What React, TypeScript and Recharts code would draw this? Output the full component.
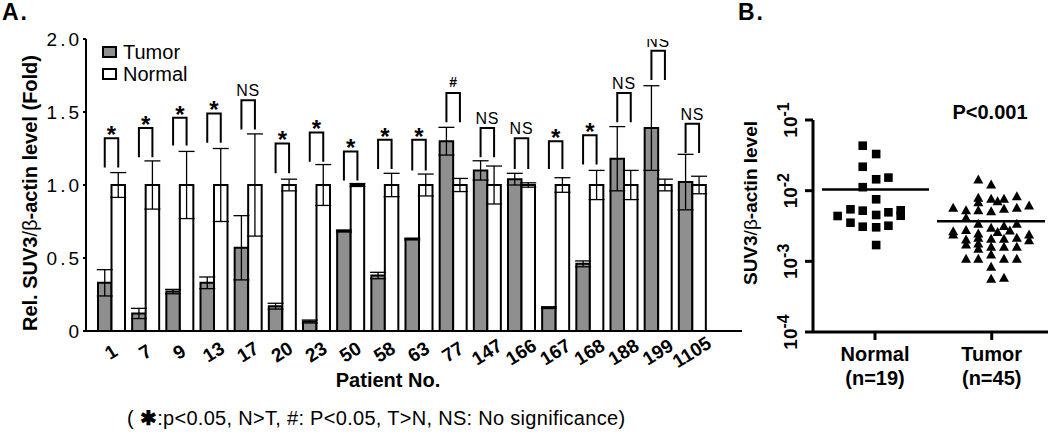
import React from "react";
import {
  BarChart,
  Bar,
  XAxis,
  YAxis,
  ErrorBar,
  Legend,
  ScatterChart,
  Scatter,
  ReferenceLine,
} from "recharts";

// Panel A: relative SUV3 level per patient
const patients = ["1", "7", "9", "13", "17", "20", "23", "50", "58", "63", "77", "147", "166", "167", "168", "188", "199", "1105"];
const tumor = [0.33, 0.12, 0.27, 0.33, 0.57, 0.17, 0.065, 0.685, 0.38, 0.63, 1.3, 1.1, 1.04, 0.16, 0.46, 1.18, 1.39, 1.02];
const tumorErr = [0.09, 0.035, 0.015, 0.04, 0.22, 0.02, 0.01, 0.007, 0.022, 0.006, 0.095, 0.066, 0.04, 0.006, 0.02, 0.22, 0.29, 0.19];
const normal = [1, 1, 1, 1, 1, 1, 1, 1, 1, 1, 1, 1, 1, 1, 1, 1, 1, 1];
const normalErr = [0.085, 0.165, 0.23, 0.25, 0.35, 0.04, 0.14, 0.01, 0.08, 0.075, 0.045, 0.13, 0.015, 0.05, 0.1, 0.1, 0.04, 0.06];
const sig = ["*", "*", "*", "*", "NS", "*", "*", "*", "*", "*", "#", "NS", "NS", "*", "*", "NS", "NS", "NS"];
const bracketTop = [1.32, 1.39, 1.46, 1.49, 1.58, 1.285, 1.36, 1.23, 1.31, 1.31, 1.63, 1.39, 1.32, 1.3, 1.34, 1.63, 1.92, 1.42];
const bracketLow = [1.12, 1.19, 1.27, 1.29, 1.38, 1.08, 1.16, 1.03, 1.11, 1.1, 1.43, 1.19, 1.11, 1.11, 1.14, 1.43, 1.72, 1.22];
const yTicksA = [0, 0.5, 1, 1.5, 2];
const seriesOrder = ["Tumor", "Normal"];

// Panel B: SUV3/beta-actin per sample (x = group position with jitter)
const groups = ["Normal", "Tumor"];
const groupN = ["(n=19)", "(n=45)"];
const normalX = [0.895, 1.01, 0.895, 1.01, 1.115, 0.895, 1.01, 0.79, 0.895, 1.01, 1.115, 1.22, 1.22, 0.68, 0.79, 0.895, 1.01, 1.115, 1.01];
const normalY = [0.0433, 0.033, 0.0218, 0.0145, 0.0153, 0.0112, 0.00755, 0.00545, 0.00521, 0.00453, 0.00494, 0.00527, 0.00442, 0.00438, 0.00352, 0.00309, 0.00303, 0.00319, 0.0017];
const tumorX = [1.885, 1.995, 1.885, 1.885, 1.995, 2.05, 2.105, 2.215, 1.67, 1.78, 1.885, 1.995, 2.105, 2.215, 2.32, 1.78, 1.885, 1.995, 2.105, 2.215, 2.05, 2.155, 1.67, 1.67, 1.78, 1.885, 1.885, 1.995, 2.105, 2.215, 2.32, 2.32, 1.78, 1.78, 1.885, 1.885, 1.995, 2.105, 2.215, 1.995, 1.78, 1.885, 2.105, 2.215, 1.995, 1.995, 2.105];
const tumorY = [0.01416, 0.01202, 0.0078, 0.00676, 0.00755, 0.00698, 0.00755, 0.00822, 0.00562, 0.00521, 0.00521, 0.00505, 0.00545, 0.00562, 0.00607, 0.00406, 0.00334, 0.00293, 0.0031, 0.00334, 0.00255, 0.00269, 0.00263, 0.00236, 0.00272, 0.00244, 0.00212, 0.00205, 0.00205, 0.00212, 0.00236, 0.00196, 0.002, 0.0017, 0.00176, 0.00148, 0.00158, 0.00158, 0.00158, 0.00123, 0.00107, 0.00107, 0.00107, 0.00107, 0.000824, 0.000557, 0.000575];
const normalMean = 0.0104;
const tumorMean = 0.0037;
const yTicksB = [0.0001, 0.001, 0.01, 0.1];

const barData = patients.map((id, i) => ({
  id,
  tumor: tumor[i],
  tumorErr: tumorErr[i],
  normal: normal[i],
  normalErr: normalErr[i],
  sig: sig[i],
  top: bracketTop[i],
  low: bracketLow[i],
}));
const normalPts = normalX.map((x, i) => ({ x, y: normalY[i] }));
const tumorPts = tumorX.map((x, i) => ({ x, y: tumorY[i] }));

const FONT = '"Liberation Sans", Arial, Helvetica, sans-serif';

// normal bar + significance bracket spanning tumor/normal bar centres
const NormalBar = (props: any) => {
  const { x, y, width, height, payload } = props;
  const base = y + height;
  const ppu = height / payload.normal;
  const top = base - payload.top * ppu;
  const low = base - payload.low * ppu;
  const xl = x - width / 2;
  const xr = x + width / 2;
  const cx = (xl + xr) / 2;
  let label = null;
  if (payload.sig === "*") {
    label = (
      <text x={cx} y={top + 5} textAnchor="middle" fontSize={24} fontWeight="bold" fill="#000">
        *
      </text>
    );
  } else if (payload.sig === "#") {
    label = (
      <text x={cx} y={top - 6} textAnchor="middle" fontSize={14} fontWeight="bold" fill="#000">
        #
      </text>
    );
  } else {
    label = (
      <text x={cx} y={top - 4} textAnchor="middle" fontSize={16} letterSpacing={0.8} fill="#000">
        NS
      </text>
    );
  }
  return (
    <g>
      <rect x={x} y={y} width={width} height={height} fill="#fff" stroke="#000" strokeWidth={2} />
      <path d={`M${xl},${low}V${top}H${xr}V${low}`} fill="none" stroke="#000" strokeWidth={2} />
      {label}
    </g>
  );
};

const PatientTick = (props: any) => {
  const { x, y, payload } = props;
  const cy = y + 13;
  return (
    <text
      x={x}
      y={cy}
      textAnchor="middle"
      dominantBaseline="central"
      transform={`rotate(-32 ${x} ${cy})`}
      fontSize={19}
      fontWeight="bold"
      fill="#000"
    >
      {payload.value}
    </text>
  );
};

const LegendBox = (props: any) => {
  const items = [...(props.payload || [])].sort(
    (a: any, b: any) => seriesOrder.indexOf(a.value) - seriesOrder.indexOf(b.value)
  );
  return (
    <div style={{ fontFamily: FONT }}>
      {items.map((e: any) => (
        <div key={e.value} style={{ display: "flex", alignItems: "center", height: 22 }}>
          <span
            style={{
              boxSizing: "border-box",
              width: 15,
              height: 12,
              border: "2px solid #000",
              background: e.color,
              marginRight: 6,
            }}
          />
          <span style={{ fontSize: 20, color: "#000" }}>{e.value}</span>
        </div>
      ))}
    </div>
  );
};

const PowTick = (props: any) => {
  const { x, y, payload } = props;
  const exp = Math.round(Math.log10(payload.value));
  return (
    <g transform={`translate(${x - 6},${y}) rotate(-90)`}>
      <text x={0} y={0} textAnchor="middle" fontSize={19} fontWeight="bold" fill="#000">
        10
        <tspan dy={-8} fontSize={16}>
          {exp}
        </tspan>
      </text>
    </g>
  );
};

const GroupTick = (props: any) => {
  const { x, y, payload } = props;
  const i = payload.value - 1;
  return (
    <text x={x} y={y} textAnchor="middle" fontSize={20} fontWeight="bold" fill="#000">
      <tspan x={x} dy={19}>
        {groups[i]}
      </tspan>
      <tspan x={x} dy={24}>
        {groupN[i]}
      </tspan>
    </text>
  );
};

const Square = (p: any) => <rect x={p.cx - 4.3} y={p.cy - 4.3} width={8.6} height={8.6} fill="#000" />;
const Tri = (p: any) => (
  <polygon points={`${p.cx},${p.cy - 5.5} ${p.cx + 5},${p.cy + 3.5} ${p.cx - 5},${p.cy + 3.5}`} fill="#000" />
);

const abs = (extra: React.CSSProperties): React.CSSProperties => ({
  position: "absolute",
  whiteSpace: "nowrap",
  lineHeight: 1,
  color: "#000",
  ...extra,
});

export default function App() {
  return (
    <div
      style={{
        position: "absolute",
        left: 0,
        top: 0,
        width: 1050,
        height: 438,
        background: "#fff",
        fontFamily: FONT,
        overflow: "hidden",
      }}
    >
      <div style={{ position: "absolute", left: 0, top: 0 }}>
        <BarChart
          width={760}
          height={438}
          data={barData}
          margin={{ top: 39, right: 18, bottom: 47, left: 26 }}
          barGap={0}
        >
          <XAxis
            dataKey="id"
            interval={0}
            padding={{ left: 8, right: 33 }}
            axisLine={{ stroke: "#000", strokeWidth: 2 }}
            tickLine={false}
            tick={<PatientTick />}
            height={60}
          />
          <YAxis
            domain={[0, 2]}
            ticks={yTicksA}
            allowDataOverflow
            tickFormatter={(v: number) => (v === 0 ? "0" : v.toFixed(1))}
            tick={{ fill: "#000", fontSize: 19, letterSpacing: 3 }}
            tickSize={3}
            tickMargin={1}
            axisLine={{ stroke: "#000", strokeWidth: 2 }}
            tickLine={{ stroke: "#000", strokeWidth: 2 }}
            width={60}
          />
          <Legend
            layout="vertical"
            align="center"
            verticalAlign="middle"
            wrapperStyle={{ top: 41, left: 102, width: 120 }}
            content={<LegendBox />}
          />
          <Bar
            dataKey="tumor"
            name="Tumor"
            fill="#8f8f8f"
            stroke="#000"
            strokeWidth={2}
            barSize={13.5}
            isAnimationActive={false}
          >
            <ErrorBar dataKey="tumorErr" width={8} stroke="#000" strokeWidth={1.3} />
          </Bar>
          <Bar
            dataKey="normal"
            name="Normal"
            fill="#fff"
            stroke="#000"
            strokeWidth={2}
            barSize={13.5}
            shape={<NormalBar />}
            isAnimationActive={false}
          >
            <ErrorBar dataKey="normalErr" width={8} stroke="#000" strokeWidth={1.3} />
          </Bar>
        </BarChart>
      </div>

      <div style={{ position: "absolute", left: 740, top: 0 }}>
        <ScatterChart width={310} height={438} margin={{ top: 120, right: 2, bottom: 46, left: 23 }}>
          <XAxis
            type="number"
            dataKey="x"
            domain={[0.469, 2.482]}
            ticks={[1, 2]}
            allowDataOverflow
            tick={<GroupTick />}
            tickSize={8}
            axisLine={{ stroke: "#000", strokeWidth: 3 }}
            tickLine={{ stroke: "#000", strokeWidth: 3 }}
            height={60}
          />
          <YAxis
            type="number"
            dataKey="y"
            scale="log"
            domain={[0.0001, 0.1]}
            ticks={yTicksB}
            allowDataOverflow
            tick={<PowTick />}
            tickSize={8}
            axisLine={{ stroke: "#000", strokeWidth: 3 }}
            tickLine={{ stroke: "#000", strokeWidth: 3 }}
            width={50}
          />
          <ReferenceLine
            segment={[
              { x: 0.546, y: normalMean },
              { x: 1.463, y: normalMean },
            ]}
            stroke="#000"
            strokeWidth={2.5}
          />
          <ReferenceLine
            segment={[
              { x: 1.531, y: tumorMean },
              { x: 2.456, y: tumorMean },
            ]}
            stroke="#000"
            strokeWidth={2.5}
          />
          <Scatter data={normalPts} shape={Square} isAnimationActive={false} />
          <Scatter data={tumorPts} shape={Tri} isAnimationActive={false} />
        </ScatterChart>
      </div>

      {/* panel letters, axis titles, notes */}
      <div style={abs({ left: 2, top: 1, fontSize: 23, fontWeight: "bold", letterSpacing: 2 })}>A.</div>
      <div style={abs({ left: 738, top: 1, fontSize: 23, fontWeight: "bold", letterSpacing: 2 })}>B.</div>
      <div
        style={abs({
          left: 30,
          top: 193,
          fontSize: 20,
          fontWeight: "bold",
          transform: "translate(-50%,-50%) rotate(-90deg)",
        })}
      >
        Rel. SUV3<span style={{ fontWeight: "normal" }}>/β</span>-actin level (Fold)
      </div>
      <div style={abs({ left: 388, top: 370, fontSize: 20, fontWeight: "bold", transform: "translateX(-50%)" })}>
        Patient No.
      </div>
      <div style={abs({ left: 127, top: 408, fontSize: 20, letterSpacing: 0.3 })}>
        ( <span style={{ fontWeight: "bold" }}>✱</span>:p&lt;0.05, N&gt;T, #: P&lt;0.05, T&gt;N, NS: No significance)
      </div>
      <div
        style={abs({
          left: 750,
          top: 203,
          fontSize: 19,
          fontWeight: "bold",
          transform: "translate(-50%,-50%) rotate(-90deg)",
        })}
      >
        SUV3<span style={{ fontWeight: "normal" }}>/β</span>-actin level
      </div>
      <div style={abs({ left: 990, top: 102, fontSize: 20, fontWeight: "bold", transform: "translateX(-50%)" })}>
        P&lt;0.001
      </div>
    </div>
  );
}
